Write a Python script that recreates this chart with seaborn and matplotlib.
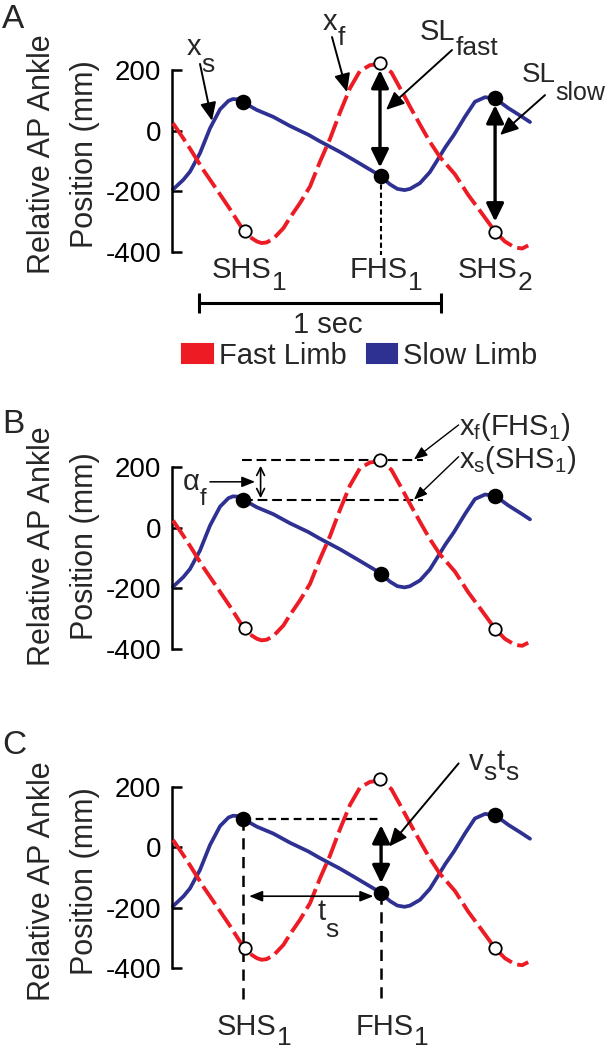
import matplotlib
matplotlib.use('Agg')
import matplotlib.pyplot as plt
from matplotlib.patches import Patch
import seaborn as sns

# ankle traces: time (s) and relative AP position (mm)
slow_t = [0, 0.043, 0.071, 0.1125, 0.154, 0.196, 0.231, 0.25, 0.27, 0.293, 0.349, 0.418,
          0.4875, 0.564, 0.6125, 0.696, 0.765, 0.835, 0.867, 0.904, 0.935, 0.965, 0.9875,
          1.029, 1.07, 1.1, 1.135, 1.17, 1.217, 1.258, 1.3, 1.342, 1.397, 1.453, 1.4875]
slow_pos = [-195, -163, -136, -75, 7, 70, 98, 104, 103, 93, 68, 45,
            15, -14, -36, -71, -103, -136, -152, -178, -193, -197, -193,
            -174, -138, -100, -55, -15, 46, 95, 110, 106, 74, 46, 28]
fast_t = [0, 0.043, 0.071, 0.126, 0.182, 0.2375, 0.279, 0.298, 0.328, 0.35, 0.369, 0.39,
          0.418, 0.46, 0.4875, 0.529, 0.571, 0.6125, 0.654, 0.696, 0.7375, 0.779, 0.821,
          0.85, 0.88, 0.91, 0.953, 0.995, 1.036, 1.07, 1.1125, 1.175, 1.23, 1.286, 1.342,
          1.383, 1.425, 1.455, 1.48]
fast_pos = [24, -26, -60, -130, -195, -260, -312, -332, -356, -367, -372, -370,
            -358, -323, -288, -240, -185, -103, -28, 60, 140, 197, 216,
            219, 212, 192, 130, 68, 10, -37, -88, -145, -213, -273, -334,
            -367, -387, -390, -380]

# heel strikes: filled = slow ankle, open = fast ankle
slow_hs_t = [0.293, 0.867, 1.342]
slow_hs_pos = [93, -152, 106]
fast_hs_t = [0.298, 0.8625, 1.342]
fast_hs_pos = [-332, 224, -334]

event_names = [('SHS', '1'), ('FHS', '1'), ('SHS', '2')]
event_name_t = [0.2875, 0.856, 1.31]

y_ticks = [-400, -200, 0, 200]
y_tick_labels = ['-400', '-200', '0', '200']
scale_bar_t = [0.108, 1.117]   # the "1 sec" bar

RED = '#ED1C24'
BLUE = '#2E3192'

sns.set_style('white')
plt.rcParams['font.family'] = ['Liberation Sans', 'DejaVu Sans']
plt.rcParams['mathtext.default'] = 'regular'

W, H = 610, 1050
K = 0.3025          # px per mm
T0_PX, PX_PER_S = 173, 240
XLIM = (-0.006, 1.55)
YLIM = (-450, 250)

fig = plt.figure(figsize=(W / 100, H / 100), dpi=100)


def make_axes(y200, label_y_px):
    top = y200 - (YLIM[1] - 200) * K
    bot = y200 + (200 - YLIM[0]) * K
    left = T0_PX + XLIM[0] * PX_PER_S
    width = (XLIM[1] - XLIM[0]) * PX_PER_S
    ax = fig.add_axes([left / W, 1 - bot / H, width / W, (bot - top) / H])
    ax.patch.set_alpha(0)

    sns.lineplot(x=slow_t, y=slow_pos, ax=ax, color=BLUE, lw=2.7, clip_on=False, zorder=2)
    sns.lineplot(x=fast_t, y=fast_pos, ax=ax, color=RED, lw=2.8, clip_on=False, zorder=3)
    ax.get_lines()[-1].set_dashes((5.6, 1.5))
    sns.scatterplot(x=slow_hs_t, y=slow_hs_pos, ax=ax, s=125, color='black',
                    linewidth=0, zorder=6, clip_on=False)
    sns.scatterplot(x=fast_hs_t, y=fast_hs_pos, ax=ax, s=80, color='white',
                    edgecolor='black', linewidth=1.3, zorder=6, clip_on=False)

    ax.set_xlim(XLIM)
    ax.set_ylim(YLIM)
    for side in ['top', 'right', 'bottom']:
        ax.spines[side].set_visible(False)
    ax.spines['left'].set_bounds(-400, 200)
    ax.spines['left'].set_linewidth(1.8)
    ax.spines['left'].set_color('black')
    ax.set_xticks([])
    ax.set_yticks(y_ticks, y_tick_labels)
    ax.tick_params(axis='y', direction='in', length=7, width=1.8, pad=7.5,
                   labelsize=20, colors='black', left=True)
    ax.set_xlabel('')
    ax.set_ylabel('Relative AP Ankle\nPosition (mm)', fontsize=22, linespacing=1.55)
    ax.yaxis.set_label_coords((63.5 - left) / width, (bot - label_y_px) / (bot - top))
    ax.yaxis.label.set_va('center')
    return ax


def sub_text(ax, x, y, parts, size=21, subsize=19, drop=15, ha='left'):
    # main text with large lowered subscripts, chained left to right
    first = ax.text(x, y, parts[0], fontsize=size, ha=ha, va='baseline')
    prev = first
    desc = 0.21 * size
    for i, p in enumerate(parts[1:]):
        is_sub = i % 2 == 0
        dy = desc - (drop * 0.72 if is_sub else 0)
        prev = ax.annotate(p, xy=(1, 0), xycoords=(prev, first), xytext=(0, dy),
                           textcoords='offset points', fontsize=subsize if is_sub else size,
                           va='baseline', ha='left', annotation_clip=False)
    return first


def arrow(ax, tail, tip, style='-|>', lw=1.4, hl=0.5, hw=0.22, ms=22):
    ax.annotate('', xy=tip, xytext=tail, annotation_clip=False,
                arrowprops=dict(arrowstyle=f'{style},head_length={hl},head_width={hw}',
                                lw=lw, color='black', shrinkA=0, shrinkB=0,
                                mutation_scale=ms))


def dashed(ax, xs, ys, lw, dashes):
    ax.plot(xs, ys, color='black', lw=lw, dashes=dashes, clip_on=False, zorder=1)


# ---------------- A ----------------
ax = make_axes(70, 154)
for (main, sub), t in zip(event_names, event_name_t):
    sub_text(ax, t, -487, [main, sub], drop=12, ha='center')
dashed(ax, [slow_hs_t[1]] * 2, [slow_hs_pos[1], -411], 1.5, (2.5, 1.5))
ax.plot(scale_bar_t, [-570, -570], color='black', lw=2.2, clip_on=False,
        marker='|', markersize=14, mew=2.2)
ax.text(0.646, -669, '1 sec', fontsize=21, ha='center', va='baseline')

sub_text(ax, 0.058, 250, ['x', 's'], drop=17)
arrow(ax, (0.1125, 220), (0.1625, 32))
sub_text(ax, 0.625, 332, ['x', 'f'], drop=15)
arrow(ax, (0.6625, 309), (0.725, 127))
sub_text(ax, 1.029, 299, ['SL', 'fast'], drop=15)
arrow(ax, (1.1625, 266), (0.8875, 68))
sub_text(ax, 1.452, 160, ['SL', 'slow'], size=20, subsize=18, drop=18)
arrow(ax, (1.55, 117), (1.3625, -15))
arrow(ax, (fast_hs_t[1], 200), (fast_hs_t[1], -122), style='<|-|>', lw=2.4, hl=0.45, hw=0.22, ms=24)
arrow(ax, (slow_hs_t[2], 84), (slow_hs_t[2], -301), style='<|-|>', lw=2.4, hl=0.45, hw=0.22, ms=24)

fig.legend(handles=[Patch(facecolor=RED, edgecolor=RED, lw=1.5, joinstyle='round', label='Fast Limb'),
                    Patch(facecolor=BLUE, edgecolor=BLUE, lw=1.5, joinstyle='round', label='Slow Limb')],
           loc='center', bbox_to_anchor=(0.59, 1 - 356 / H), ncol=2, frameon=False,
           fontsize=21, handlelength=1.05, handleheight=0.65, handletextpad=0.2,
           columnspacing=0.7, borderpad=0, borderaxespad=0)

# ---------------- B ----------------
ax = make_axes(467.3, 546)
dashed(ax, [0.2875, 1.04], [fast_hs_pos[1]] * 2, 1.5, (4.7, 2.3))
dashed(ax, [slow_hs_t[0], 1.04], [slow_hs_pos[0]] * 2, 1.5, (4.7, 2.3))
arrow(ax, (0.365, 205), (0.365, 98), style='<->', lw=1.2, hl=0.4, hw=0.2, ms=14)
sub_text(ax, 0.042, 125, ['\u03b1', 'f'], subsize=17, drop=15)
arrow(ax, (0.154, 152), (0.342, 152), lw=1.1, hl=0.5, hw=0.2, ms=16)
ax.text(1.19, 307, r'x$_f$(FHS$_1$)', fontsize=21, va='baseline')
ax.text(1.19, 197, r'x$_s$(SHS$_1$)', fontsize=21, va='baseline')
arrow(ax, (1.19, 340), (1.004, 226), lw=1.0, hl=0.5, hw=0.2, ms=16)
arrow(ax, (1.19, 235), (1.004, 93), lw=1.0, hl=0.5, hw=0.2, ms=16)

# ---------------- C ----------------
ax = make_axes(786.7, 881)
dashed(ax, [slow_hs_t[0]] * 2, [slow_hs_pos[0], -518], 1.8, (4.5, 3))
dashed(ax, [slow_hs_t[1]] * 2, [slow_hs_pos[1], -518], 1.8, (4.5, 3))
dashed(ax, [slow_hs_t[0], 0.86], [slow_hs_pos[0]] * 2, 1.6, (3.5, 2.2))
arrow(ax, (0.867, 73), (0.867, -119), style='<|-|>', lw=2.4, hl=0.45, hw=0.22, ms=24)
arrow(ax, (0.317, -162), (0.835, -162), style='<|-|>', lw=1.2, hl=0.5, hw=0.2, ms=16)
sub_text(ax, 0.6, -242, ['t', 's'], drop=17)
sub_text(ax, 1.233, 255, ['v', 's', 't', 's'], drop=10)
arrow(ax, (1.19, 277), (0.9, 2))
for (main, sub), t in zip(event_names[:2], [0.308, 0.883]):
    sub_text(ax, t, -620, [main, sub], drop=10, ha='center')

fig.text(2 / W, 1 - 28 / H, 'A', fontsize=24, va='baseline')
fig.text(2 / W, 1 - 433 / H, 'B', fontsize=24, va='baseline')
fig.text(2 / W, 1 - 754 / H, 'C', fontsize=24, va='baseline')

fig.savefig('out.png', dpi=100)
